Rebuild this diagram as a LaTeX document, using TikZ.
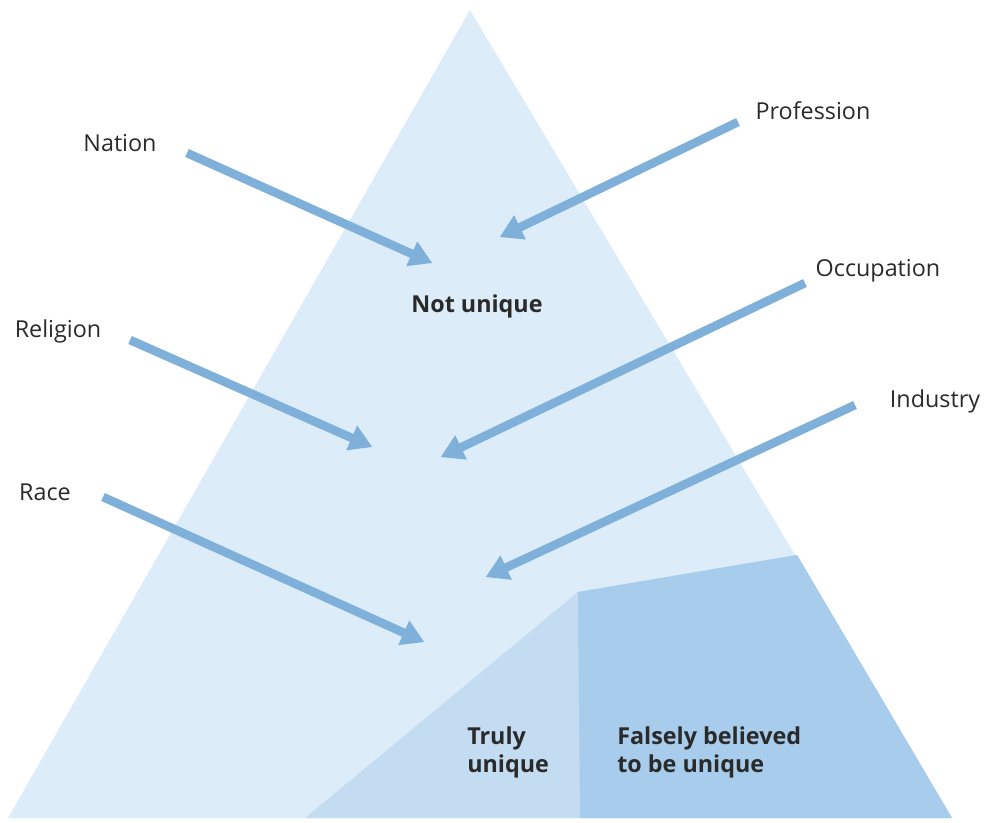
\documentclass[tikz,border=0pt]{standalone}
\usepackage{fontspec}
\setmainfont{Open Sans}
\usetikzlibrary{arrows.meta}
\definecolor{paleblue}{HTML}{DCEDF9}
\definecolor{midblue}{HTML}{C3DCF1}
\definecolor{deepblue}{HTML}{A8CCEB}
\definecolor{arrowblue}{HTML}{7FB0DA}
\definecolor{inkgray}{HTML}{2A2A2A}
\tikzset{
  label/.style={font=\fontsize{17.5}{21}\selectfont, text=inkgray, inner sep=0pt},
  region/.style={font=\fontsize{17.5}{21}\selectfont\bfseries, text=inkgray, inner sep=0pt, align=left},
  pointer/.style={draw=arrowblue, line width=6.5pt, -{Triangle[length=17pt,width=19pt]}, shorten >=-2pt}
}
\begin{document}
\begin{tikzpicture}[x=0.75pt,y=-0.75pt]
\useasboundingbox (0,0) rectangle (987,823);
% pyramid and its lower sections
\coordinate (apex) at (470,10);
\coordinate (bl) at (8,818);
\coordinate (br) at (952,818);
\fill[paleblue] (apex) -- (bl) -- (br) -- cycle;
\fill[midblue] (305,818) -- (578,592) -- (797,555) -- (br) -- cycle;
\fill[deepblue] (578,592) -- (797,555) -- (br) -- (580,818) -- cycle;
% labels
\node[label] (nation) at (120,143) {Nation};
\node[label] (profession) at (813,111) {Profession};
\node[label] (occupation) at (878,271) {Occupation};
\node[label] (religion) at (58,331) {Religion};
\node[label] (industry) at (935,401) {Industry};
\node[label] (race) at (45,492) {Race};
\node[region] (notunique) at (477,306) {Not unique};
\node[region, anchor=west] (truly) at (467,752) {Truly\\unique};
\node[region, anchor=west] (falsely) at (617,752) {Falsely believed\\to be unique};
% arrow ends
\coordinate (s1) at (187,153); \coordinate (e1) at (430,262);
\coordinate (s2) at (738,122); \coordinate (e2) at (502,236);
\coordinate (s3) at (130,340); \coordinate (e3) at (370,446);
\coordinate (s4) at (805,283); \coordinate (e4) at (443,456);
\coordinate (s5) at (103,497); \coordinate (e5) at (422,641);
\coordinate (s6) at (855,405); \coordinate (e6) at (488,576);
\foreach \i in {1,...,6} \draw[pointer] (s\i) -- (e\i);
\end{tikzpicture}
\end{document}
